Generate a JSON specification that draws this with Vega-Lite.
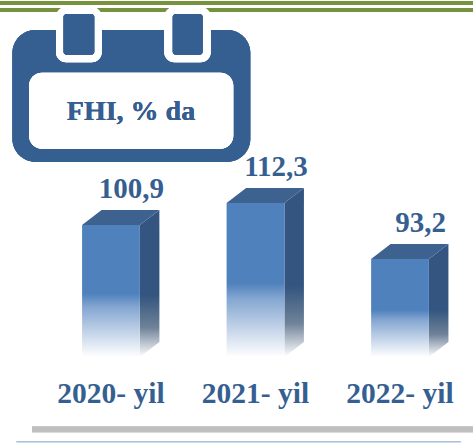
{
"$schema":"https://vega.github.io/schema/vega-lite/v6.json",
"width":473,"height":443,"padding":0,"autosize":{"type":"none"},"background":"white",
"config":{"view":{"stroke":null},"text":{"font":"Liberation Serif","fontWeight":"bold","color":"#365f91"}},
"data":{"values":[
{"year":2020,"label":"2020- yil","value":100.9,"text":"100,9"},
{"year":2021,"label":"2021- yil","value":112.3,"text":"112,3"},
{"year":2022,"label":"2022- yil","value":93.2,"text":"93,2"}]},
"resolve":{"scale":{"x":"independent","y":"independent"}},
"layer":[
{"layer":[
{"mark":{"type":"rect","color":"#76923c"},"encoding":{"x":{"datum":0,"type":"quantitative","scale":{"domain":[0,473],"nice":false,"zero":false},"axis":null},"x2":{"datum":473},"y":{"datum":1,"type":"quantitative","scale":{"domain":[0,443],"range":[0,443],"nice":false,"zero":false},"axis":null},"y2":{"datum":5}}},
{"mark":{"type":"rect","color":"#76923c"},"encoding":{"x":{"datum":0,"type":"quantitative"},"x2":{"datum":473},"y":{"datum":8,"type":"quantitative"},"y2":{"datum":12}}},
{"mark":{"type":"rect","color":"#365f91","cornerRadius":23},"encoding":{"x":{"datum":12.4,"type":"quantitative"},"x2":{"datum":250.3},"y":{"datum":30,"type":"quantitative"},"y2":{"datum":161.7}}},
{"mark":{"type":"rect","color":"white","cornerRadius":13},"encoding":{"x":{"datum":29,"type":"quantitative"},"x2":{"datum":233.3},"y":{"datum":72.7,"type":"quantitative"},"y2":{"datum":148.7}}},
{"mark":{"type":"rect","color":"white","cornerRadius":10},"encoding":{"x":{"datum":56,"type":"quantitative"},"x2":{"datum":101.7},"y":{"datum":7,"type":"quantitative"},"y2":{"datum":62.3}}},
{"mark":{"type":"rect","color":"white","cornerRadius":10},"encoding":{"x":{"datum":164.3,"type":"quantitative"},"x2":{"datum":210.7},"y":{"datum":7,"type":"quantitative"},"y2":{"datum":62.3}}},
{"mark":{"type":"rect","color":"#365f91","cornerRadius":3},"encoding":{"x":{"datum":63.5,"type":"quantitative"},"x2":{"datum":94.3},"y":{"datum":14,"type":"quantitative"},"y2":{"datum":54.7}}},
{"mark":{"type":"rect","color":"#365f91","cornerRadius":3},"encoding":{"x":{"datum":172.7,"type":"quantitative"},"x2":{"datum":202.7},"y":{"datum":14,"type":"quantitative"},"y2":{"datum":54.7}}},
{"mark":{"type":"rect","color":"#bfbfbf"},"encoding":{"x":{"datum":32,"type":"quantitative"},"x2":{"datum":473},"y":{"datum":426.5,"type":"quantitative"},"y2":{"datum":432.3}}},
{"mark":{"type":"rect","color":"#aac1dc"},"encoding":{"x":{"datum":16.5,"type":"quantitative"},"x2":{"datum":461},"y":{"datum":441.3,"type":"quantitative"},"y2":{"datum":442.3}}},
{"mark":{"type":"text","fontSize":28,"align":"center","baseline":"alphabetic"},"encoding":{"x":{"datum":131,"type":"quantitative"},"y":{"datum":120,"type":"quantitative"},"text":{"value":"FHI, % da"}}}
]},
{"transform":[
{"calculate":"datum.year-0.2","as":"left"},
{"calculate":"datum.year+0.2","as":"right"},
{"calculate":"datum.value<95?datum.value+3.4:datum.value+7.77","as":"back"},
{"calculate":"[0,1]","as":"t"},
{"flatten":["t"]},
{"calculate":"datum.t?datum.back:datum.value","as":"ytop"},
{"calculate":"datum.t?74.5:71.1","as":"ybase"},
{"calculate":"datum.left+datum.t*0.135","as":"xl"},
{"calculate":"datum.right+datum.t*0.135","as":"xr"}
],
"layer":[
{"mark":{"type":"area","orient":"vertical","line":false,"color":{"gradient":"linear","x1":0,"y1":0,"x2":0,"y2":1,"stops":[{"offset":0,"color":"#33557f"},{"offset":0.58,"color":"#33557f"},{"offset":0.8,"color":"#6f8299"},{"offset":1,"color":"#ffffff"}]}},
"encoding":{"detail":{"field":"year"},"x":{"field":"xr","type":"quantitative","scale":{"domain":[2019.232,2022.505],"nice":false,"zero":false},"axis":null},"y":{"field":"ytop","type":"quantitative","stack":null,"scale":{"domain":[71.1,93.2,100.9,112.3,120.07],"range":[357,259,225,203,188],"nice":false,"zero":false},"axis":null},"y2":{"field":"ybase"}}},
{"mark":{"type":"area","orient":"horizontal","color":"#3e628f"},
"encoding":{"detail":{"field":"year"},"y":{"field":"ytop","type":"quantitative"},"x":{"field":"xl","type":"quantitative","stack":null},"x2":{"field":"xr"}}},
{"transform":[{"filter":"datum.t==0"}],"mark":{"type":"rect","color":{"gradient":"linear","x1":0,"y1":0,"x2":0,"y2":1,"stops":[{"offset":0,"color":"#4f81bd"},{"offset":0.52,"color":"#4f81bd"},{"offset":0.62,"color":"#84a6d1"},{"offset":1,"color":"#ffffff"}]}},
"encoding":{"x":{"field":"left","type":"quantitative"},"x2":{"field":"right"},"y":{"field":"value","type":"quantitative"},"y2":{"field":"ybase"}}},
{"transform":[{"filter":"datum.t==1"}],"mark":{"type":"text","fontSize":29,"align":"center","baseline":"alphabetic","dx":20.5,"dy":-12},
"encoding":{"x":{"field":"year","type":"quantitative"},"y":{"field":"back","type":"quantitative"},"text":{"field":"text"}}},
{"transform":[{"filter":"datum.t==0"}],"mark":{"type":"text","fontSize":29.5,"align":"center","baseline":"alphabetic","dy":46},
"encoding":{"x":{"field":"year","type":"quantitative"},"y":{"datum":71.1,"type":"quantitative"},"text":{"field":"label"}}}
]}
]}
